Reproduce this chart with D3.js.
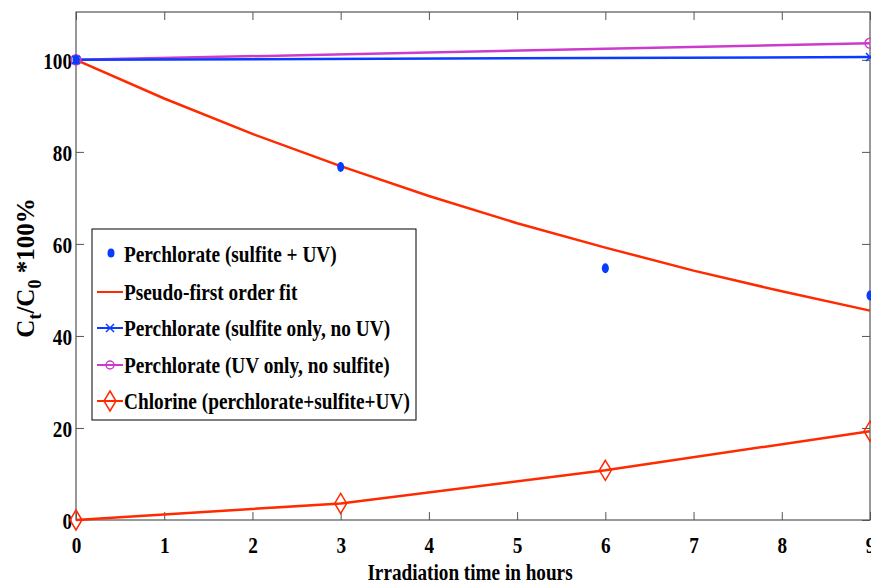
<!DOCTYPE html>
<html>
<head>
<meta charset="utf-8">
<script src="https://cdn.jsdelivr.net/npm/d3@7"></script>
<style>
  body { margin: 0; background: #fff; }
  svg text { font-family: "Liberation Serif", "Times New Roman", serif; font-weight: bold; fill: #000; }
</style>
</head>
<body>
<svg id="chart" width="871" height="585"></svg>
<script>
// measured hours
const hours = [0, 3, 6, 9];
const fitHours = [0, 1, 2, 3, 4, 5, 6, 7, 8, 9];
const controlHours = [0, 9];

// series values
const sulfiteUV = [100, 76.7, 54.7, 48.8];
const pseudoFit = [100, 91.6, 83.9, 76.9, 70.4, 64.5, 59.2, 54.2, 49.7, 45.5];
const sulfiteOnly = [100, 100.6];
const uvOnly = [100, 103.6];
const chlorine = [0, 3.6, 10.8, 19.3];

const xTicks = [0, 1, 2, 3, 4, 5, 6, 7, 8, 9];
const yTicks = [0, 20, 40, 60, 80, 100];

const legendLabels = [
  "Perchlorate (sulfite + UV)",
  "Pseudo-first order fit",
  "Perchlorate (sulfite only, no UV)",
  "Perchlorate (UV only, no sulfite)",
  "Chlorine (perchlorate+sulfite+UV)"
];

const red = "#ff2a00", blue = "#0a3cff", magenta = "#cc3ccc";

var svg = d3.select("#chart");
var pLeft = 76, pRight = 870, pTop = 12, pBottom = 520;
var sx = 0.8; // narrow glyphs like the original

var x = d3.scaleLinear().domain([0, 9]).range([pLeft, pRight]);
var y = d3.scaleLinear().domain([0, 110.4]).range([pBottom, pTop]);

// frame
svg.append("rect")
  .attr("x", pLeft).attr("y", pTop)
  .attr("width", pRight - pLeft).attr("height", pBottom - pTop)
  .attr("fill", "none").attr("stroke", "#333").attr("stroke-width", 1);

// axes with inward ticks
var xAxis = svg.append("g").attr("transform", "translate(0," + pBottom + ")")
  .call(d3.axisBottom(x).tickValues(xTicks).tickSize(-8).tickPadding(16));
var xTop = svg.append("g").attr("transform", "translate(0," + pTop + ")")
  .call(d3.axisTop(x).tickValues(xTicks).tickSize(-8).tickFormat(""));
var yAxis = svg.append("g").attr("transform", "translate(" + pLeft + ",0)")
  .call(d3.axisLeft(y).tickValues(yTicks).tickSize(-8).tickPadding(4));
var yRight = svg.append("g").attr("transform", "translate(" + pRight + ",0)")
  .call(d3.axisRight(y).tickValues(yTicks).tickSize(-8).tickFormat(""));

[xAxis, xTop, yAxis, yRight].forEach(function(a) {
  a.select(".domain").remove();
  a.selectAll(".tick line").attr("stroke", "#555");
  a.selectAll("text").attr("font-size", 24).attr("fill", "#000")
    .style("font-family", "Liberation Serif, serif").style("font-weight", "bold")
    .attr("transform", "scale(" + sx + ",1)");
});
yAxis.selectAll("text").attr("x", -4 / sx).attr("dy", "0.36em");

// lines
var line = function(xs) {
  return d3.line().x(function(d, i) { return x(xs[i]); }).y(function(d) { return y(d); });
};

svg.append("path").datum(uvOnly).attr("d", line(controlHours))
  .attr("fill", "none").attr("stroke", magenta).attr("stroke-width", 2.5);
svg.append("path").datum(sulfiteOnly).attr("d", line(controlHours))
  .attr("fill", "none").attr("stroke", blue).attr("stroke-width", 2.5);
svg.append("path").datum(pseudoFit).attr("d", line(fitHours))
  .attr("fill", "none").attr("stroke", red).attr("stroke-width", 2.5);
svg.append("path").datum(chlorine).attr("d", line(hours))
  .attr("fill", "none").attr("stroke", red).attr("stroke-width", 2.5);

function cross(g, cx, cy, color) {
  g.append("path").attr("d", "M" + (cx - 4) + "," + (cy - 4) + "L" + (cx + 4) + "," + (cy + 4) +
    "M" + (cx - 4) + "," + (cy + 4) + "L" + (cx + 4) + "," + (cy - 4))
    .attr("stroke", color).attr("stroke-width", 1.5);
}
function diamond(g, cx, cy, color) {
  g.append("path").attr("d", "M" + cx + "," + (cy - 10) + "L" + (cx + 6) + "," + cy +
    "L" + cx + "," + (cy + 10) + "L" + (cx - 6) + "," + cy + "Z")
    .attr("fill", "none").attr("stroke", color).attr("stroke-width", 1.5);
}

var marks = svg.append("g");
uvOnly.forEach(function(v, i) {
  marks.append("circle").attr("cx", x(controlHours[i])).attr("cy", y(v)).attr("r", 5)
    .attr("fill", "none").attr("stroke", magenta).attr("stroke-width", 1.5);
});
sulfiteOnly.forEach(function(v, i) { cross(marks, x(controlHours[i]), y(v), blue); });
chlorine.forEach(function(v, i) { diamond(marks, x(hours[i]), y(v), red); });
sulfiteUV.forEach(function(v, i) {
  marks.append("ellipse").attr("cx", x(hours[i])).attr("cy", y(v)).attr("rx", 3.5).attr("ry", 5)
    .attr("fill", blue);
});

// legend
var lg = svg.append("g");
lg.append("rect").attr("x", 92).attr("y", 229).attr("width", 324).attr("height", 191)
  .attr("fill", "#fff").attr("stroke", "#000").attr("stroke-width", 1);
var rowY = [254, 292, 328, 365, 401];
legendLabels.forEach(function(t, i) {
  var yy = rowY[i], x0 = 97, x1 = 123, xm = (x0 + x1) / 2;
  if (i === 0) {
    lg.append("ellipse").attr("cx", xm + 1).attr("cy", yy - 1).attr("rx", 3.5).attr("ry", 4.5).attr("fill", blue);
  } else {
    var c = [null, red, blue, magenta, red][i];
    lg.append("line").attr("x1", x0).attr("x2", x1).attr("y1", yy).attr("y2", yy)
      .attr("stroke", c).attr("stroke-width", 2);
    if (i === 2) cross(lg, xm, yy, blue);
    if (i === 3) lg.append("circle").attr("cx", xm).attr("cy", yy).attr("r", 4)
      .attr("fill", "none").attr("stroke", magenta).attr("stroke-width", 1.5);
    if (i === 4) diamond(lg, xm, yy, red);
  }
  lg.append("text").attr("transform", "translate(124," + (yy + 8) + ") scale(0.84,1)")
    .attr("font-size", 23).text(t);
});

// axis labels
svg.append("text").attr("transform", "translate(470,580) scale(0.8,1)")
  .attr("text-anchor", "middle").attr("font-size", 24).text("Irradiation time in hours");

var yl = svg.append("text").attr("transform", "translate(34,268) rotate(-90)")
  .attr("text-anchor", "middle").attr("font-size", 25);
yl.append("tspan").text("C");
yl.append("tspan").attr("font-size", 18).attr("dy", 7).text("t");
yl.append("tspan").attr("dy", -7).text("/C");
yl.append("tspan").attr("font-size", 18).attr("dy", 7).text("0");
yl.append("tspan").attr("dy", -7).text(" *100%");
</script>
</body>
</html>
